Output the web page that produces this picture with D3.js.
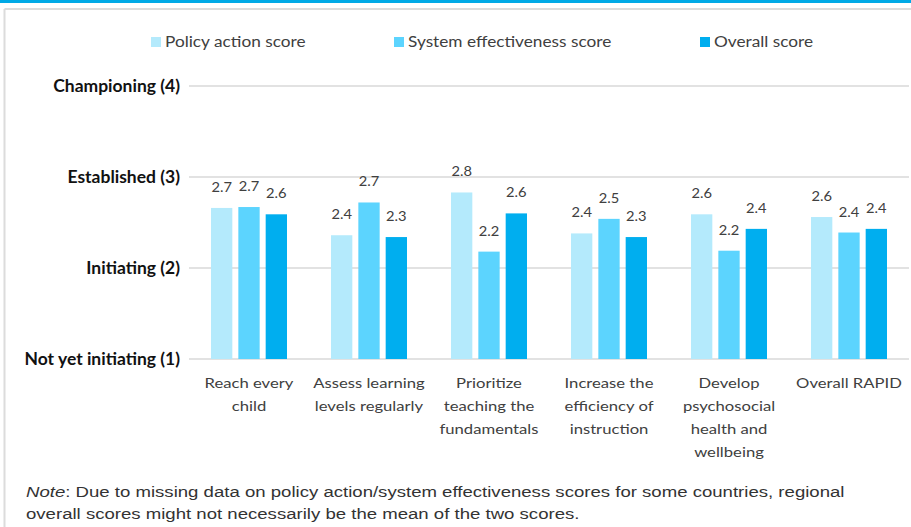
<!DOCTYPE html>
<html>
<head>
<meta charset="utf-8">
<script src="https://cdn.jsdelivr.net/npm/d3@7"></script>
<style>
  html, body { margin: 0; padding: 0; background: #fff; }
  svg { display: block; }
</style>
</head>
<body>
<svg id="chart" width="911" height="527"></svg>
<script>
const categories = [
  ["Reach every", "child"],
  ["Assess learning", "levels regularly"],
  ["Prioritize", "teaching the", "fundamentals"],
  ["Increase the", "efficiency of", "instruction"],
  ["Develop", "psychosocial", "health and", "wellbeing"],
  ["Overall RAPID"]
];
const seriesNames = ["Policy action score", "System effectiveness score", "Overall score"];
const policyAction = [2.66, 2.36, 2.83, 2.38, 2.59, 2.56];
const systemEffectiveness = [2.67, 2.72, 2.18, 2.54, 2.19, 2.39];
const overallScore = [2.59, 2.34, 2.60, 2.34, 2.43, 2.43];
const valueLabels = [
  ["2.7", "2.4", "2.8", "2.4", "2.6", "2.6"],
  ["2.7", "2.7", "2.2", "2.5", "2.2", "2.4"],
  ["2.6", "2.3", "2.6", "2.3", "2.4", "2.4"]
];
const yTicks = [1, 2, 3, 4];
const yTickLabels = ["Not yet initiating (1)", "Initiating (2)", "Established (3)", "Championing (4)"];
const noteText = ["Due to missing data on policy action/system effectiveness scores for some countries, regional",
                  "overall scores might not necessarily be the mean of the two scores."];

const colors = ["#b4eafc", "#5cd4fe", "#00aeef"];
const series = [policyAction, systemEffectiveness, overallScore];

const svg = d3.select("#chart");
const calibri = "Lato, 'Open Sans', sans-serif";

// horizontal stretch helper (reference text is wider than available fonts)
function stretch(sel, ax, sx) {
  sel.attr("transform", `translate(${ax},0) scale(${sx},1) translate(${-ax},0)`);
}

// frame
svg.append("rect").attr("x", 0).attr("y", 0).attr("width", 911).attr("height", 3).attr("fill", "#00a9e6");
svg.append("line").attr("x1", 4.5).attr("x2", 911).attr("y1", 9).attr("y2", 9)
  .attr("stroke", "#dcdcdc").attr("stroke-width", 2);
svg.append("line").attr("x1", 4.5).attr("x2", 4.5).attr("y1", 9).attr("y2", 527)
  .attr("stroke", "#dcdcdc").attr("stroke-width", 2);

const plotLeft = 189, plotRight = 909;
const y = d3.scaleLinear().domain([1, 4]).range([359, 86]);
const x0 = d3.scaleBand().domain(d3.range(categories.length)).range([plotLeft, plotRight]).paddingInner(0).paddingOuter(0);
const groupW = 76;
const x1 = d3.scaleBand().domain(d3.range(3)).range([0, groupW]).paddingInner(0.22).paddingOuter(0);

// gridlines
svg.append("g").selectAll("line").data(yTicks).join("line")
  .attr("x1", plotLeft).attr("x2", plotRight)
  .attr("y1", d => y(d)).attr("y2", d => y(d))
  .attr("stroke", "#d9d9d9").attr("stroke-width", 1.5);

// y labels
const yl = svg.append("g").selectAll("text").data(yTicks).join("text")
  .attr("x", 180).attr("y", d => y(d)).attr("dy", "0.35em")
  .attr("text-anchor", "end")
  .attr("font-family", calibri).attr("font-weight", "bold").attr("font-size", 16.5)
  .attr("fill", "#111")
  .text((d, i) => yTickLabels[i]);
yl.each(function () { stretch(d3.select(this), 180, 1.06); });

// bars
series.forEach((vals, s) => {
  const g = svg.append("g");
  g.selectAll("rect").data(vals).join("rect")
    .attr("x", (d, i) => x0(i) + (x0.bandwidth() - groupW) / 2 + x1(s))
    .attr("width", x1.bandwidth())
    .attr("y", d => y(d))
    .attr("height", d => y(1) - y(d))
    .attr("fill", colors[s]);
  g.selectAll("text").data(vals).join("text")
    .attr("x", (d, i) => x0(i) + (x0.bandwidth() - groupW) / 2 + x1(s) + x1.bandwidth() / 2)
    .attr("y", d => y(d) - 16)
    .attr("text-anchor", "middle")
    .attr("font-family", calibri).attr("font-size", 14)
    .attr("fill", "#404040")
    .text((d, i) => valueLabels[s][i])
    .each(function (d, i) {
      stretch(d3.select(this), x0(i) + (x0.bandwidth() - groupW) / 2 + x1(s) + x1.bandwidth() / 2, 1.05);
    });
});

// x labels
const xl = svg.append("g");
categories.forEach((lines, i) => {
  const cx = x0(i) + x0.bandwidth() / 2;
  const t = xl.append("text")
    .attr("text-anchor", "middle")
    .attr("font-family", calibri).attr("font-size", 14)
    .attr("fill", "#404040");
  lines.forEach((ln, j) => {
    t.append("tspan").attr("x", cx).attr("y", 388 + j * 23).text(ln);
  });
  stretch(t, cx, 1.19);
});

// legend
const legendX = [151, 394, 700];
seriesNames.forEach((n, i) => {
  svg.append("rect").attr("x", legendX[i]).attr("y", 37).attr("width", 10).attr("height", 10).attr("fill", colors[i]);
  const t = svg.append("text").attr("x", legendX[i] + 14).attr("y", 42).attr("dy", "0.35em")
    .attr("font-family", calibri).attr("font-size", 15).attr("fill", "#404040").text(n);
  stretch(t, legendX[i] + 14, 1.15);
});

// note
const note = svg.append("text").attr("font-family", "Arial, 'Liberation Sans', sans-serif")
  .attr("font-size", 15).attr("fill", "#333");
const l1 = note.append("tspan").attr("x", 26).attr("y", 497);
l1.append("tspan").attr("font-style", "italic").text("Note");
l1.append("tspan").text(": " + noteText[0]);
note.append("tspan").attr("x", 26).attr("y", 519).text(noteText[1]);
stretch(note, 26, 1.24);
</script>
</body>
</html>
